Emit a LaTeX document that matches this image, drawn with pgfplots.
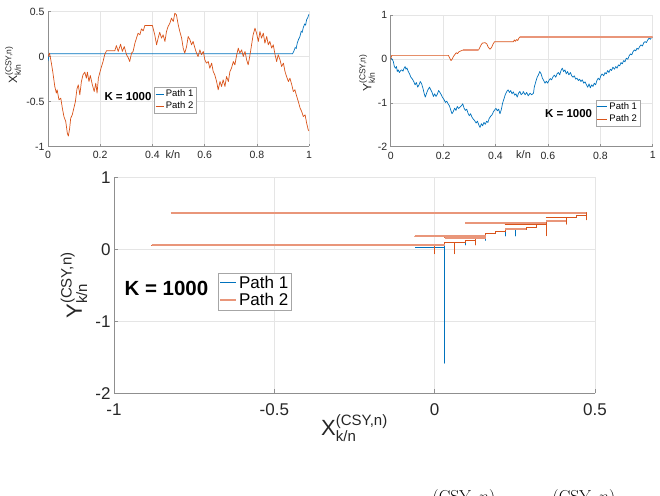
\documentclass[border=0pt]{standalone}
\usepackage[no-math]{fontspec}
\setmainfont{Liberation Sans}
\usepackage{pgfplots}
\pgfplotsset{compat=1.18}

\definecolor{pathblue}{HTML}{0072BD}
\definecolor{pathorange}{HTML}{D95319}
\definecolor{pathsalmon}{HTML}{E9967A}
\definecolor{axisgray}{HTML}{8F8F8F}
\definecolor{labelgray}{HTML}{262626}

% letter with the (CSY,n) superscript and k/n subscript
\newcommand{\csylabel}[3]{{\fontsize{#1}{#1}\selectfont #3$^{\mbox{\fontsize{#2}{#2}\selectfont (CSY,n)}}_{\mbox{\fontsize{#2}{#2}\selectfont k/n}}$}}

\pgfplotsset{
  matlab/.style={
    scale only axis, anchor=south west,
    axis lines=left, axis line style={-, draw=axisgray, line width=0.5pt},
    tick align=inside, tick style={draw=axisgray, line width=0.5pt},
    grid=major, major grid style={draw=black!10, line width=0.5pt},
    tick label style={text=labelgray},
    label style={text=labelgray},
    /pgf/number format/assume math mode=true,
    legend cell align=left,
    legend style={draw=black!35, line width=0.4pt, fill=white, text=black,
      inner xsep=1pt, inner ysep=0.5pt, anchor=north west},
  },
}

\begin{document}
\begin{tikzpicture}
\useasboundingbox (0,0) rectangle (660pt,495pt);

% ---------- X path over k/n ----------
\begin{axis}[matlab,
  at={(48pt,348.5pt)}, width=261pt, height=135pt,
  xmin=0, xmax=1, ymin=-1, ymax=0.5,
  xtick={0,0.2,0.4,0.6,0.8,1}, xticklabels={0,0.2,0.4,0.6,0.8,1},
  ytick={-1,-0.5,0,0.5}, yticklabels={-1,-0.5,0,0.5},
  major tick length=2.5pt,
  tick label style={font=\fontsize{10.5}{10.5}\selectfont},
  xticklabel style={yshift=-1.5pt},
  xlabel={\fontsize{11}{11}\selectfont k/n},
  xlabel style={at={(axis description cs:0.479,-0.063)}, anchor=center},
  ylabel={\csylabel{12}{8.5}{X}},
  ylabel style={at={(axis description cs:-0.134,0.604)}, anchor=center},
  legend style={at={(axis description cs:0.406,0.441)}, font=\fontsize{9.5}{10.5}\selectfont},
  legend image code/.code={\draw[#1] (0pt,0pt) -- (8pt,0pt);},
]
\addplot[pathblue, line width=0.7pt] coordinates {
(0,-0.05) (0.005,0.03) (0.937,0.03) (0.942,0.06) (0.947,0.10) (0.951,0.09)
(0.955,0.15) (0.960,0.19) (0.965,0.22) (0.970,0.28) (0.974,0.27) (0.978,0.32)
(0.983,0.36) (0.987,0.35) (0.991,0.41) (0.995,0.43) (1.000,0.47)};
\addlegendentry{Path 1}
\addplot[pathorange, line width=0.7pt, line join=round] coordinates {
(0,0) (0.006,0.037) (0.013,-0.074) (0.019,-0.185) (0.026,-0.333) (0.032,-0.407)
(0.035,-0.370) (0.042,-0.481) (0.049,-0.463) (0.055,-0.574) (0.061,-0.667)
(0.068,-0.722) (0.074,-0.852) (0.078,-0.885) (0.083,-0.796) (0.087,-0.685)
(0.093,-0.648) (0.099,-0.574) (0.105,-0.500) (0.111,-0.359) (0.116,-0.315)
(0.122,-0.426) (0.128,-0.278) (0.134,-0.204) (0.141,-0.174) (0.147,-0.241)
(0.151,-0.174) (0.157,-0.278) (0.162,-0.211) (0.170,-0.315) (0.177,-0.389)
(0.183,-0.296) (0.188,-0.407) (0.193,-0.241) (0.198,-0.185) (0.205,-0.111)
(0.211,-0.056) (0.217,0.019) (0.224,0.063) (0.256,0.063) (0.262,0.122)
(0.269,0.056) (0.278,0.137) (0.285,0.056) (0.292,0.111) (0.301,0.019)
(0.307,-0.011) (0.313,-0.056) (0.320,0.037) (0.326,0.056) (0.333,0.148)
(0.339,0.204) (0.345,0.259) (0.352,0.241) (0.358,0.307) (0.365,0.285)
(0.371,0.344) (0.400,0.344) (0.409,0.241) (0.416,0.130) (0.422,0.204)
(0.428,0.270) (0.435,0.204) (0.441,0.241) (0.448,0.167) (0.454,0.278)
(0.460,0.333) (0.467,0.370) (0.473,0.426) (0.480,0.389) (0.486,0.481)
(0.492,0.463) (0.499,0.352) (0.505,0.278) (0.512,0.204) (0.518,0.093)
(0.524,0.037) (0.531,0.111) (0.537,0.222) (0.544,0.185) (0.550,0.130)
(0.556,0.167) (0.563,0.093) (0.569,0.037) (0.575,0.000) (0.582,0.074)
(0.588,0.019) (0.595,0.056) (0.601,-0.037) (0.607,-0.074) (0.614,-0.056)
(0.620,-0.130) (0.627,-0.074) (0.633,-0.167) (0.639,-0.204) (0.646,-0.278)
(0.652,-0.370) (0.659,-0.278) (0.665,-0.333) (0.671,-0.259) (0.678,-0.333)
(0.684,-0.222) (0.691,-0.278) (0.697,-0.167) (0.703,-0.130) (0.710,-0.056)
(0.716,-0.093) (0.723,0.019) (0.729,0.093) (0.735,0.037) (0.742,0.074)
(0.748,0.000) (0.755,0.056) (0.761,-0.037) (0.767,-0.093) (0.774,0.019)
(0.780,0.130) (0.786,0.241) (0.793,0.315) (0.799,0.259) (0.806,0.167)
(0.812,0.278) (0.818,0.204) (0.825,0.259) (0.831,0.148) (0.838,0.222)
(0.844,0.130) (0.850,0.167) (0.857,0.093) (0.863,0.130) (0.870,0.019)
(0.876,-0.056) (0.882,0.019) (0.889,-0.037) (0.895,-0.111) (0.902,-0.074)
(0.908,-0.167) (0.914,-0.222) (0.921,-0.278) (0.927,-0.241) (0.934,-0.315)
(0.940,-0.389) (0.946,-0.370) (0.953,-0.444) (0.959,-0.500) (0.966,-0.574)
(0.972,-0.611) (0.978,-0.667) (0.985,-0.648) (0.991,-0.741) (0.997,-0.815)
(1.000,-0.826)};
\addlegendentry{Path 2}
\node[font=\bfseries\fontsize{11.5}{11.5}\selectfont, text=black]
  at (axis description cs:0.3065,0.367) {K = 1000};
\end{axis}

% ---------- Y path over k/n ----------
\begin{axis}[matlab,
  at={(390.7pt,348.3pt)}, width=262pt, height=131.7pt,
  xmin=0, xmax=1, ymin=-2, ymax=1,
  xtick={0,0.2,0.4,0.6,0.8,1}, xticklabels={0,0.2,0.4,0.6,0.8,1},
  ytick={-2,-1,0,1}, yticklabels={-2,-1,0,1},
  major tick length=2.5pt,
  tick label style={font=\fontsize{10.5}{10.5}\selectfont},
  xticklabel style={yshift=-1.5pt},
  xlabel={\fontsize{11}{11}\selectfont k/n},
  xlabel style={at={(axis description cs:0.507,-0.063)}, anchor=center},
  ylabel={\csylabel{12}{8.5}{Y}},
  ylabel style={at={(axis description cs:-0.09,0.56)}, anchor=center},
  legend style={at={(axis description cs:0.782,0.355)}, font=\fontsize{9.5}{10.5}\selectfont},
  legend image code/.code={\draw[#1] (0pt,0pt) -- (10pt,0pt);},
]
\addplot[pathblue, line width=0.7pt, line join=round] coordinates {
(0.000,0.020) (0.006,-0.008) (0.010,-0.061) (0.014,-0.174) (0.018,-0.212)
(0.022,-0.174) (0.025,-0.288) (0.029,-0.250) (0.033,-0.311) (0.038,-0.265)
(0.042,-0.250) (0.047,-0.280) (0.051,-0.212) (0.055,-0.174) (0.058,-0.235)
(0.062,-0.205) (0.067,-0.288) (0.072,-0.341) (0.077,-0.417) (0.083,-0.462)
(0.088,-0.515) (0.093,-0.591) (0.098,-0.538) (0.103,-0.644) (0.108,-0.591)
(0.113,-0.515) (0.118,-0.568) (0.123,-0.667) (0.128,-0.795) (0.132,-0.871)
(0.137,-0.780) (0.142,-0.705) (0.148,-0.644) (0.153,-0.705) (0.158,-0.765)
(0.163,-0.856) (0.168,-0.795) (0.173,-0.856) (0.178,-0.803) (0.183,-0.720)
(0.188,-0.765) (0.193,-0.818) (0.198,-0.879) (0.204,-0.932) (0.209,-0.992)
(0.214,-0.962) (0.219,-1.023) (0.224,-1.068) (0.229,-1.159) (0.234,-1.250)
(0.239,-1.197) (0.244,-1.121) (0.249,-1.174) (0.254,-1.083) (0.259,-1.129)
(0.265,-1.098) (0.270,-1.068) (0.275,-1.023) (0.280,-1.121) (0.285,-1.174)
(0.290,-1.144) (0.295,-1.235) (0.300,-1.295) (0.305,-1.250) (0.310,-1.326)
(0.315,-1.371) (0.320,-1.402) (0.326,-1.462) (0.331,-1.417) (0.336,-1.500)
(0.341,-1.561) (0.346,-1.477) (0.351,-1.523) (0.356,-1.447) (0.361,-1.492)
(0.366,-1.417) (0.371,-1.447) (0.376,-1.356) (0.381,-1.311) (0.387,-1.273)
(0.392,-1.205) (0.397,-1.159) (0.402,-1.129) (0.407,-1.182) (0.412,-1.144)
(0.417,-1.250) (0.422,-1.159) (0.427,-1.008) (0.432,-0.917) (0.437,-0.818)
(0.443,-0.742) (0.448,-0.705) (0.453,-0.765) (0.458,-0.720) (0.463,-0.795)
(0.468,-0.750) (0.473,-0.826) (0.478,-0.795) (0.483,-0.871) (0.488,-0.780)
(0.493,-0.742) (0.498,-0.818) (0.504,-0.780) (0.506,-0.742) (0.513,-0.818)
(0.519,-0.765) (0.525,-0.841) (0.532,-0.780) (0.538,-0.818) (0.545,-0.780)
(0.548,-0.644) (0.554,-0.515) (0.559,-0.417) (0.564,-0.364) (0.569,-0.288)
(0.574,-0.341) (0.579,-0.439) (0.584,-0.492) (0.589,-0.553) (0.594,-0.508)
(0.599,-0.553) (0.604,-0.492) (0.609,-0.447) (0.614,-0.477) (0.620,-0.402)
(0.625,-0.371) (0.630,-0.417) (0.635,-0.341) (0.640,-0.311) (0.645,-0.364)
(0.650,-0.265) (0.655,-0.212) (0.660,-0.288) (0.665,-0.250) (0.670,-0.341)
(0.675,-0.288) (0.680,-0.364) (0.686,-0.311) (0.691,-0.386) (0.696,-0.417)
(0.701,-0.386) (0.706,-0.462) (0.711,-0.439) (0.716,-0.492) (0.721,-0.462)
(0.726,-0.515) (0.731,-0.477) (0.737,-0.553) (0.742,-0.523) (0.747,-0.591)
(0.752,-0.644) (0.757,-0.568) (0.762,-0.659) (0.767,-0.591) (0.772,-0.629)
(0.777,-0.553) (0.782,-0.591) (0.787,-0.492) (0.792,-0.439) (0.797,-0.477)
(0.802,-0.386) (0.807,-0.341) (0.813,-0.386) (0.818,-0.311) (0.823,-0.341)
(0.828,-0.265) (0.833,-0.311) (0.838,-0.235) (0.843,-0.265) (0.848,-0.189)
(0.854,-0.235) (0.859,-0.174) (0.864,-0.212) (0.869,-0.136) (0.874,-0.159)
(0.879,-0.083) (0.884,-0.114) (0.889,-0.038) (0.894,-0.068) (0.899,0.015)
(0.905,-0.008) (0.910,0.068) (0.915,0.114) (0.920,0.091) (0.925,0.167)
(0.930,0.205) (0.935,0.182) (0.940,0.242) (0.945,0.220) (0.950,0.280)
(0.955,0.318) (0.961,0.295) (0.966,0.371) (0.971,0.394) (0.976,0.371)
(0.981,0.432) (0.986,0.470) (0.991,0.447) (0.996,0.492) (1.000,0.480)};
\addlegendentry{Path 1}
\addplot[pathorange, line width=0.7pt, line join=round] coordinates {
(0,0.0) (0.004,0.08) (0.220,0.08) (0.225,0.02) (0.230,-0.04) (0.235,0.00)
(0.240,0.06) (0.245,0.10) (0.250,0.14) (0.255,0.12) (0.260,0.16) (0.267,0.18)
(0.275,0.20) (0.335,0.20) (0.340,0.26) (0.345,0.32) (0.350,0.36) (0.360,0.37)
(0.367,0.34) (0.372,0.27) (0.379,0.22) (0.385,0.26) (0.390,0.33) (0.396,0.39)
(0.468,0.39) (0.472,0.43) (0.476,0.40) (0.480,0.44) (0.485,0.42) (0.489,0.47)
(0.493,0.50) (1.000,0.50)};
\addlegendentry{Path 2}
\addplot[pathsalmon, line width=1.4pt, forget plot, unbounded coords=jump] coordinates {
(0.275,0.20) (0.335,0.20) (nan,nan) (0.493,0.50) (1.000,0.50)};
\node[font=\bfseries\fontsize{11.5}{11.5}\selectfont, text=black]
  at (axis description cs:0.679,0.248) {K = 1000};
\end{axis}

% ---------- Y against X ----------
\begin{axis}[matlab,
  at={(114pt,101.7pt)}, width=481pt, height=216pt,
  xmin=-1, xmax=0.5, ymin=-2, ymax=1,
  xtick={-1,-0.5,0,0.5}, xticklabels={-1,-0.5,0,0.5},
  ytick={-2,-1,0,1}, yticklabels={-2,-1,0,1},
  major tick length=4pt,
  tick label style={font=\fontsize{17}{17}\selectfont},
  xticklabel style={yshift=-7pt},
  xlabel={\csylabel{22}{15}{X}},
  xlabel style={at={(axis description cs:0.5,-0.16)}, anchor=center},
  ylabel={\csylabel{22}{15}{Y}},
  ylabel style={at={(axis description cs:-0.083,0.5)}, anchor=center},
  legend style={at={(axis description cs:0.216,0.557)}, font=\fontsize{17}{20}\selectfont},
  legend image code/.code={\draw[#1] (0pt,0pt) -- (16pt,0pt);},
]
\addplot[pathblue, line width=0.9pt, line join=round] coordinates {
(-0.06,0.03) (0.031,0.03) (0.031,-1.58) (0.031,0.09) (0.062,0.09) (0.096,0.09)
(0.096,0.06) (0.096,0.12) (0.128,0.12) (0.128,0.16) (0.159,0.16) (0.159,0.125)
(0.159,0.22) (0.190,0.22) (0.190,0.25) (0.220,0.25) (0.220,0.185) (0.220,0.28)
(0.252,0.28) (0.252,0.185) (0.252,0.28) (0.286,0.28) (0.286,0.31) (0.317,0.31)
(0.317,0.34) (0.348,0.34) (0.348,0.40) (0.410,0.40) (0.410,0.44) (0.441,0.44)
(0.441,0.47) (0.473,0.47) (0.473,0.45)};
\addlegendentry{Path 1}
\addplot[pathorange, line width=0.9pt, line join=round, forget plot] coordinates {
(0.000,0.056) (-0.883,0.056) (0.000,0.056) (0.000,-0.06) (0.000,0.056)
(0.031,0.056) (0.031,0.09) (0.062,0.09) (0.062,-0.06) (0.062,0.09) (0.096,0.09)
(0.096,0.12) (0.128,0.12) (0.128,0.06) (0.128,0.16) (0.031,0.16) (0.159,0.16)
(0.159,0.185) (-0.062,0.185) (0.159,0.185) (0.159,0.22) (0.190,0.22)
(0.190,0.25) (0.220,0.25) (0.220,0.28) (0.286,0.28) (0.286,0.31) (0.317,0.31)
(0.317,0.34) (0.220,0.34) (0.348,0.34) (0.348,0.19) (0.348,0.37) (0.096,0.37)
(0.348,0.37) (0.348,0.40) (0.410,0.40) (0.410,0.35) (0.410,0.44) (0.348,0.44)
(0.441,0.44) (0.441,0.47) (0.473,0.47) (0.473,0.41) (0.473,0.505)
(-0.821,0.505) (-0.800,0.505)};
\addplot[pathsalmon, line width=2pt, unbounded coords=jump] coordinates {
(-0.883,0.056) (0.031,0.056) (nan,nan) (0.031,0.16) (0.159,0.16) (nan,nan)
(-0.062,0.185) (0.159,0.185) (nan,nan) (0.220,0.28) (0.286,0.28) (nan,nan)
(0.096,0.37) (0.348,0.37) (nan,nan) (0.348,0.40) (0.410,0.40) (nan,nan)
(-0.821,0.505) (0.473,0.505)};
\addlegendentry{Path 2}
\node[font=\bfseries\fontsize{20.5}{20.5}\selectfont, text=black]
  at (axis description cs:0.109,0.4875) {K = 1000};
\end{axis}

% top of the caption line below the figure
\node[anchor=north, inner sep=0pt, font=\fontsize{16}{16}\selectfont] at (464pt,6pt) {$(\mathrm{CSY},n)$};
\node[anchor=north, inner sep=0pt, font=\fontsize{16}{16}\selectfont] at (584pt,6pt) {$(\mathrm{CSY},n)$};
\end{tikzpicture}
\end{document}
